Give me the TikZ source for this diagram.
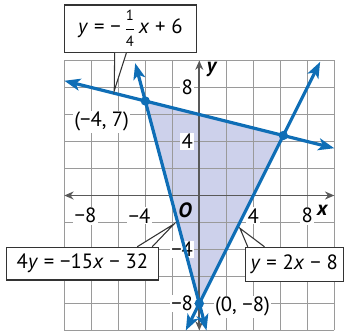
\documentclass[tikz,border=0pt]{standalone}
\usepackage{amsmath}
\usepackage{fontspec}
\setmainfont{PT Sans}
\usetikzlibrary{arrows.meta,calc}
\definecolor{lnblue}{HTML}{0F6EB6}
\definecolor{regshade}{HTML}{CDD1EB}
\definecolor{gridgray}{HTML}{9A9A9A}
\definecolor{axisgray}{HTML}{595959}
\definecolor{boxrule}{HTML}{333333}
\newcommand{\opgap}{\hspace{0.28em}}
\newcommand{\smallfrac}[2]{$\genfrac{}{}{0.6pt}{0}{\text{\fontsize{11}{12}\selectfont#1}}{\text{\fontsize{11}{12}\selectfont#2}}$}

\begin{document}
\begin{tikzpicture}[x=10.125pt, y=10.125pt, font=\fontsize{15.5}{18}\selectfont, >=Stealth]
  \tikzset{gridln/.style={draw=gridgray, line width=0.8pt},
           axisln/.style={draw=axisgray, line width=1.2pt, {Stealth[length=7pt,width=6pt]}-{Stealth[length=7pt,width=6pt]}},
           bline/.style={draw=lnblue, line width=2.4pt, {Stealth[length=12pt,width=9pt,inset=3pt]}-{Stealth[length=12pt,width=9pt,inset=3pt]}},
           dot/.style={circle, fill=lnblue, inner sep=0, minimum size=7pt},
           tick/.style={fill=white, inner sep=1pt},
           axlab/.style={font=\fontsize{15.5}{18}\selectfont\bfseries\itshape, inner sep=0},
           callout/.style={draw=boxrule, fill=white, line width=0.8pt, inner sep=0},
           ptr/.style={draw=boxrule, fill=white, line width=0.8pt, line join=miter}}
  \useasboundingbox (-14.763,-10.185) rectangle (10.719,14.481);
  % feasible region
  \coordinate (A) at (-4,7);
  \coordinate (B) at (6.222,4.444);
  \coordinate (C) at (0,-8);
  \fill[regshade] (A) -- (B) -- (C) -- cycle;
  % grid
  \foreach \v in {-10,-8,...,10} {
    \draw[gridln] (\v,-10) -- (\v,10);
    \draw[gridln] (-10,\v) -- (10,\v);
  }
  % axes
  \coordinate (xl) at (-10,0); \coordinate (xr) at (10,0);
  \coordinate (yb) at (0,-10); \coordinate (yt) at (0,10);
  \draw[axisln] (xl) -- (xr);
  \draw[axisln] (yb) -- (yt);
  \foreach \v in {-8,-4} \node[tick, anchor=east] (xt\v) at (\v+0.5,-1.5) {−\hbox{}\ifnum\v=-8 8\else 4\fi};
  \foreach \v in {4,8} \node[tick] (xt\v) at (\v,-1.5) {\v};
  \node[tick, anchor=east] (yt8) at (-0.35,8) {8};
  \node[tick, anchor=east] (yt4) at (-0.35,4) {4};
  \node[tick, anchor=east] (ytm4) at (-0.35,-4) {−4};
  \node[tick, anchor=east] (ytm8) at (-0.35,-8) {−8};
  \node[axlab] (xname) at (9.1,-1.1) {x};
  \node[axlab] (yname) at (0.9,9.3) {y};
  \node[axlab] (oname) at (-1.06,-1.07) {O};
  % boundary lines
  \coordinate (l1a) at (-10,8.5);    \coordinate (l1b) at (10,3.5);
  \coordinate (l2a) at (-4.747,9.8); \coordinate (l2b) at (0.533,-10);
  \coordinate (l3a) at (-1,-10);     \coordinate (l3b) at (8.95,9.9);
  \draw[bline] (l1a) -- (l1b);
  \draw[bline] (l2a) -- (l2b);
  \draw[bline] (l3a) -- (l3b);
  \node[dot] (pA) at (A) {};
  \node[dot] (pB) at (B) {};
  \node[dot] (pC) at (C) {};
  \node[tick] (labA) at (-7.23,5.47) {(−4, 7)};
  \node[tick] (labC) at (3.2,-8.24) {(0, −8)};
  % callouts
  \node[callout, minimum width=99pt, minimum height=35.4pt] (eqone) at (-5.1,12.36)
    {\textit{y}\opgap=\opgap−\,\smallfrac{1}{4}\,\textit{x}\opgap+\opgap6};
  \coordinate (tipone) at (-6.3,7.76);
  \filldraw[ptr] ($(eqone.south west)+(3.76,0)$) -- (tipone) -- ($(eqone.south west)+(4.63,0)$);
  \node[callout, minimum width=113.7pt, minimum height=24.5pt] (eqtwo) at (-8.655,-5.05)
    {4\textit{y}\opgap=\opgap−15\textit{x}\opgap−\opgap32};
  \coordinate (tiptwo) at (-1.87,-2.11);
  \filldraw[ptr] ($(eqtwo.north east)+(-1.6,0)$) -- (tiptwo) -- ($(eqtwo.north east)+(-0.49,0)$);
  \node[callout, minimum width=73.7pt, minimum height=25.8pt] (eqthree) at (7.03,-5.115)
    {\textit{y}\opgap=\opgap2\textit{x}\opgap−\opgap8};
  \coordinate (tipthree) at (3.01,-2.43);
  \filldraw[ptr] ($(eqthree.north west)+(0.24,0)$) -- (tipthree) -- ($(eqthree.north west)+(1.48,0)$);
\end{tikzpicture}
\end{document}
